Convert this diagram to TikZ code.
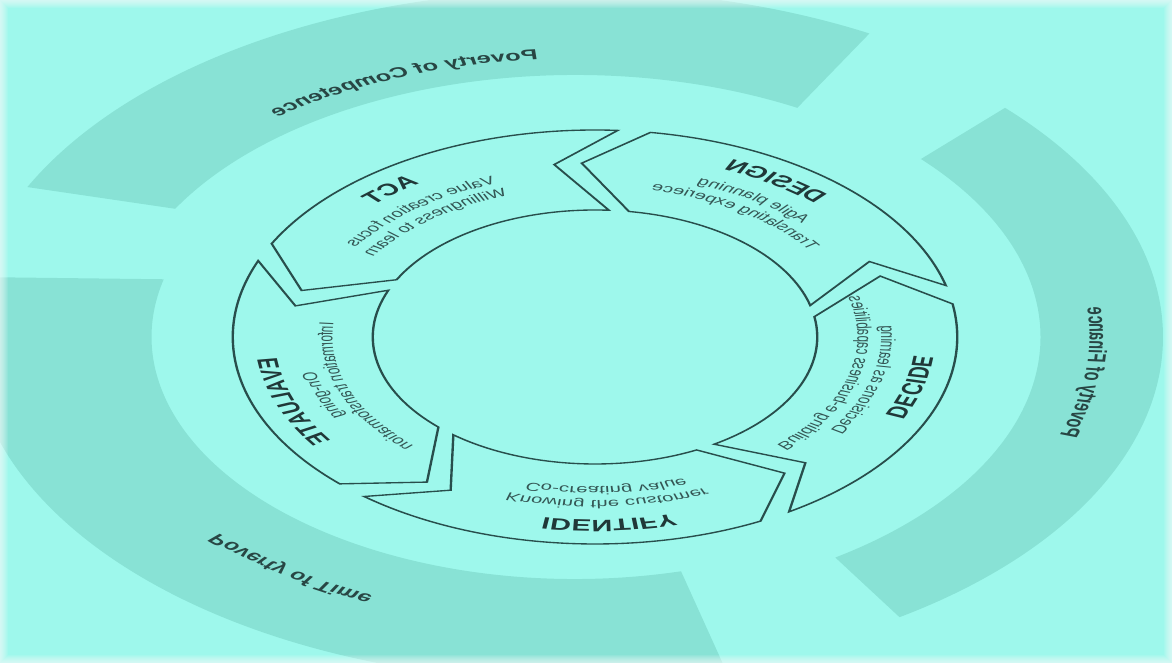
\documentclass[tikz,border=0pt]{standalone}
\usepackage{fontspec}
\setmainfont{Liberation Sans}
\usetikzlibrary{decorations.text}
\definecolor{bgc}{RGB}{158,248,236}
\definecolor{bandc}{RGB}{136,226,213}
\definecolor{linec}{RGB}{40,78,76}
\definecolor{headc}{RGB}{32,56,56}
\definecolor{bodyc}{RGB}{52,86,84}
\definecolor{bandtxt}{RGB}{40,70,68}
\newcommand\headfmt{\fontsize{16.5}{18}\selectfont\bfseries\color{headc}}
\newcommand\bodyfmt{\fontsize{11.6}{13}\selectfont\color{bodyc}}
\newcommand\bandfmt{\fontsize{14.5}{16}\selectfont\bfseries\color{bandtxt}}
\newcommand\arclabel[4]{%
  \pgfmathsetmacro\arcA{#1+42}%
  \pgfmathsetmacro\arcB{#1-42}%
  \path[decorate, decoration={text along path, text align=center, text={|#3|#4}}]
    (\arcA:#2) arc[start angle=\arcA, end angle=\arcB, radius=#2];}
% band: inner start, outer start, inner end, outer end, inner radius, outer radius
\newcommand\bandshape[6]{%
  \fill[bandpiece] (#1:#5) arc[start angle=#1, end angle=#3, radius=#5]
    -- (#4:#6) arc[start angle=#4, end angle=#2, radius=#6] -- cycle;}
\tikzset{
  segment/.style={draw=linec, line width=1.35pt, line join=miter},
  bandpiece/.style={fill=bandc},
  edgeglow/.style={draw=white, opacity=0.1},
}
\begin{document}
\begin{tikzpicture}
\useasboundingbox (0,0) rectangle (1172pt,663pt);
\fill[bgc] (0,0) rectangle (1172pt,663pt);
% outer bands
\begin{scope}[transform canvas={shift={(575pt,326pt)}, xscale=-1.75}]
  \bandshape{29.3}{25.6}{119}{119}{262pt}{347pt}
  \bandshape{138}{137}{236}{236.5}{266pt}{336pt}
  \bandshape{255.5}{255.5}{373.8}{370}{242pt}{345pt}
  \arclabel{69}{278pt}{\bandfmt}{Poverty of Competence}
  \arclabel{187}{294pt}{\bandfmt}{Poverty of Finance}
  \arclabel{305}{283pt}{\bandfmt}{Poverty of Time}
\end{scope}
% cycle
\begin{scope}[transform canvas={shift={(595pt,326pt)}, xscale=-1.75}]
  \foreach \L in {26.8, 98.8, 170.8, 242.8, 314.8} {
    \pgfmathsetmacro\H{\L+66.8}
    \pgfmathsetmacro\Hd{\H-11.3}
    \pgfmathsetmacro\Ld{\L-11.3}
    \draw[segment] (\H:207pt) -- (\Hd:174pt) -- (\H:127pt)
      arc[start angle=\H, end angle=\L, radius=127pt]
      -- (\Ld:174pt) -- (\L:207pt)
      arc[start angle=\L, end angle=\H, radius=207pt] -- cycle;
  }
  \arclabel{51.5}{183pt}{\headfmt}{ACT}
  \arclabel{51.5}{163.5pt}{\bodyfmt}{Value creation focus}
  \arclabel{51.5}{150pt}{\bodyfmt}{Willingness to learn}
  \arclabel{123.5}{183pt}{\headfmt}{DESIGN}
  \arclabel{123.5}{163.5pt}{\bodyfmt}{Agile planning}
  \arclabel{123.5}{150pt}{\bodyfmt}{Translating experiece}
  \arclabel{195.5}{183pt}{\headfmt}{DECIDE}
  \arclabel{195.5}{163.5pt}{\bodyfmt}{Decisions as learning}
  \arclabel{195.5}{150pt}{\bodyfmt}{Building e-business capabilities}
  \arclabel{267.5}{183pt}{\headfmt}{IDENTIFY}
  \arclabel{267.5}{163.5pt}{\bodyfmt}{Knowing the customer}
  \arclabel{267.5}{150pt}{\bodyfmt}{Co-creating value}
  \arclabel{339.5}{183pt}{\headfmt}{EVALUATE}
  \arclabel{339.5}{163.5pt}{\bodyfmt}{On-going}
  \arclabel{339.5}{150pt}{\bodyfmt}{Information transformation}
\end{scope}
\foreach \w in {2,4,...,16} {
  \draw[edgeglow, line width=\w pt] (0,0) rectangle (1172pt,663pt);
}
\end{tikzpicture}
\end{document}
